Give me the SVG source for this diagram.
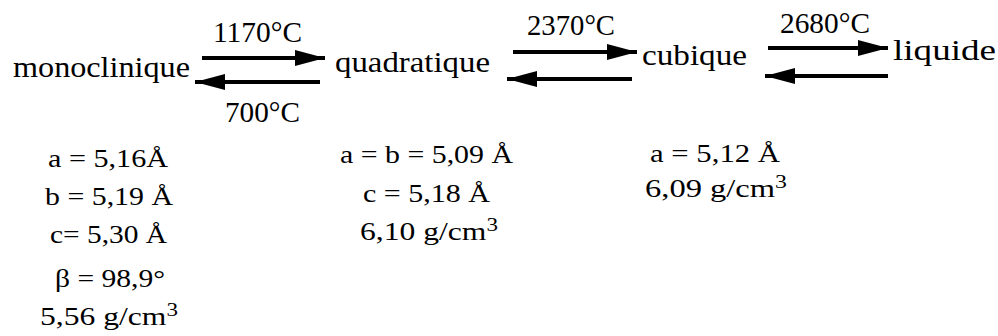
<svg xmlns="http://www.w3.org/2000/svg" width="998" height="336" viewBox="0 0 998 336">
  <style>
    text { font-family: "Liberation Serif", "DejaVu Serif", serif; fill: #000; }
    .phase { font-size: 30px; }
    .temp { font-size: 30px; }
    .prop { font-size: 26px; }
    .arrow { stroke: #000; stroke-width: 4; fill: none; marker-end: url(#head); }
  </style>
  <defs>
    <marker id="head" markerUnits="userSpaceOnUse" markerWidth="32" markerHeight="18" refX="30" refY="8" orient="auto">
      <path d="M0,0 L30,8 L0,16 Z" fill="#000"/>
    </marker>
  </defs>
  <rect width="998" height="336" fill="#fff"/>

  <g id="connectors">
    <line class="arrow" x1="202" y1="58" x2="325" y2="58"/>
    <line class="arrow" x1="320" y1="82" x2="195" y2="82"/>
    <line class="arrow" x1="513" y1="52" x2="637" y2="52"/>
    <line class="arrow" x1="632" y1="79" x2="507" y2="79"/>
    <line class="arrow" x1="768" y1="48" x2="888" y2="48"/>
    <line class="arrow" x1="888" y1="76" x2="765" y2="76"/>
    <text class="temp" x="213" y="42" textLength="89" lengthAdjust="spacingAndGlyphs">1170°C</text>
    <text class="temp" x="225" y="122" textLength="75" lengthAdjust="spacingAndGlyphs">700°C</text>
    <text class="temp" x="527" y="35" textLength="88" lengthAdjust="spacingAndGlyphs">2370°C</text>
    <text class="temp" x="780" y="33" textLength="90" lengthAdjust="spacingAndGlyphs">2680°C</text>
  </g>

  <g id="monoclinique">
    <text class="phase" x="13" y="77" textLength="177" lengthAdjust="spacingAndGlyphs">monoclinique</text>
    <text class="prop" x="48" y="167" textLength="120" lengthAdjust="spacingAndGlyphs">a = 5,16Å</text>
    <text class="prop" x="45" y="205" textLength="128" lengthAdjust="spacingAndGlyphs">b = 5,19 Å</text>
    <text class="prop" x="50" y="243" textLength="117" lengthAdjust="spacingAndGlyphs">c= 5,30 Å</text>
    <text class="prop" x="55" y="287" textLength="110" lengthAdjust="spacingAndGlyphs">β = 98,9°</text>
    <text class="prop" x="40" y="325" textLength="138" lengthAdjust="spacingAndGlyphs">5,56 g/cm<tspan font-size="19" dy="-9">3</tspan></text>
  </g>

  <g id="quadratique">
    <text class="phase" x="335" y="72" textLength="155" lengthAdjust="spacingAndGlyphs">quadratique</text>
    <text class="prop" x="340" y="163" textLength="173" lengthAdjust="spacingAndGlyphs">a = b = 5,09 Å</text>
    <text class="prop" x="363" y="202" textLength="127" lengthAdjust="spacingAndGlyphs">c = 5,18 Å</text>
    <text class="prop" x="360" y="240" textLength="138" lengthAdjust="spacingAndGlyphs">6,10 g/cm<tspan font-size="19" dy="-9">3</tspan></text>
  </g>

  <g id="cubique">
    <text class="phase" x="642" y="65" textLength="105" lengthAdjust="spacingAndGlyphs">cubique</text>
    <text class="prop" x="650" y="162" textLength="130" lengthAdjust="spacingAndGlyphs">a = 5,12 Å</text>
    <text class="prop" x="645" y="197" textLength="142" lengthAdjust="spacingAndGlyphs">6,09 g/cm<tspan font-size="19" dy="-9">3</tspan></text>
  </g>

  <g id="liquide">
    <text class="phase" x="893" y="60" textLength="103" lengthAdjust="spacingAndGlyphs">liquide</text>
  </g>
</svg>
